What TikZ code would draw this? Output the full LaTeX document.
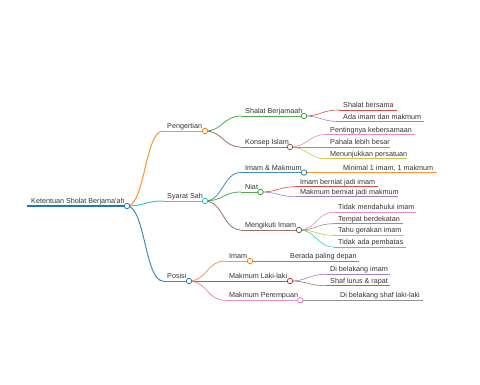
\documentclass[tikz,border=0pt]{standalone}
\usepackage{fontspec}
\setmainfont{Liberation Sans}
\usetikzlibrary{calc}
\definecolor{c1}{HTML}{1F77B4}
\definecolor{c2}{HTML}{FF7F0E}
\definecolor{c3}{HTML}{2CA02C}
\definecolor{c4}{HTML}{D62728}
\definecolor{c5}{HTML}{9467BD}
\definecolor{c6}{HTML}{8C564B}
\definecolor{c7}{HTML}{E377C2}
\definecolor{c8}{HTML}{7F7F7F}
\definecolor{c9}{HTML}{BCBD22}
\definecolor{c10}{HTML}{17BECF}
\definecolor{txt}{HTML}{333333}
\pgfdeclarelayer{fg}
\pgfsetlayers{main,fg}
\newcommand\mmlink[4]{%
  \draw[#3, line width=#4, draw opacity=0.85] let \p1=(#1.center), \p2=(#2) in
    (\p1) .. controls ({(\x1+\x2)/2},\y1) and ({(\x1+\x2)/2},\y2) .. (\p2);}
\newcommand\mmbranch[8]{%
  \coordinate (#1s) at (#3,#4);
  \begin{pgfonlayer}{fg}\node[dot,draw=#6] (#1) at (#5,#4) {};\end{pgfonlayer}
  \mmlink{#2}{#1s}{#6}{#7}
  \draw[#6,line width=#7, draw opacity=0.85] (#1s) -- (#1.center);
  \node[lbl] (#1t) at (#3+4,#4-2.5) {#8};}
\newcommand\mmleaf[7]{%
  \coordinate (#1s) at (#3,#4);
  \coordinate (#1e) at (#5,#4);
  \mmlink{#2}{#1s}{#6}{0.6pt}
  \draw[#6,line width=0.6pt, draw opacity=0.85] (#1s) -- (#1e);
  \node[lbl] (#1t) at (#3+4,#4-2.5) {#7};}
\begin{document}
\begin{tikzpicture}[x=1pt,y=-1pt,
  lbl/.style={inner sep=0pt, anchor=base west, text=txt, font=\fontsize{7.2}{8}\selectfont},
  dot/.style={circle, fill=white, minimum size=5.5pt, inner sep=0pt, line width=0.75pt}]
\useasboundingbox (0,0) rectangle (480,384);
% root
\coordinate (rs) at (27,206);
\begin{pgfonlayer}{fg}\node[dot,draw=c1] (r) at (127,206) {};\end{pgfonlayer}
\draw[c1,line width=1.5pt] (rs) -- (r.center);
\node[lbl] (rt) at (31,203.5) {Ketentuan Sholat Berjama\textquotesingle ah};
% level 1
\mmbranch{p}{r}{163}{131}{205}{c2}{1pt}{Pengertian}
\mmbranch{s}{r}{163}{201}{205}{c10}{1pt}{Syarat Sah}
\mmbranch{q}{r}{163}{281}{189}{c1}{1pt}{Posisi}
% Pengertian
\mmbranch{sb}{p}{241}{116}{304}{c3}{0.8pt}{Shalat Berjamaah}
\mmbranch{ki}{p}{241}{147}{290}{c6}{0.8pt}{Konsep Islam}
\mmleaf{la}{sb}{339}{110}{397}{c4}{Shalat bersama}
\mmleaf{lb}{sb}{339}{121.5}{424}{c5}{Ada imam dan makmum}
\mmleaf{lc}{ki}{326}{134.5}{415}{c7}{Pentingnya kebersamaan}
\mmleaf{ld}{ki}{326}{147}{390}{c8}{Pahala lebih besar}
\mmleaf{le}{ki}{326}{158.7}{407}{c9}{Menunjukkan persatuan}
% Syarat Sah
\mmbranch{im}{s}{241}{172.5}{304}{c1}{0.8pt}{Imam \& Makmum}
\mmbranch{ni}{s}{241}{192}{260.5}{c3}{0.8pt}{Niat}
\mmbranch{mi}{s}{241}{230}{299}{c6}{0.8pt}{Mengikuti Imam}
\mmleaf{lf}{im}{339}{172.5}{437}{c2}{Minimal 1 imam, 1 makmum}
\mmleaf{lg}{ni}{296}{186.7}{378}{c4}{Imam berniat jadi imam}
\mmleaf{lh}{ni}{296}{196.7}{398}{c5}{Makmum berniat jadi makmum}
\mmleaf{li}{mi}{334}{212.3}{416}{c7}{Tidak mendahului imam}
\mmleaf{lj}{mi}{334}{223.7}{403}{c8}{Tempat berdekatan}
\mmleaf{lk}{mi}{334}{235.3}{404}{c9}{Tahu gerakan imam}
\mmleaf{ll}{mi}{334}{247}{406}{c10}{Tidak ada pembatas}
% Posisi
\mmbranch{qi}{q}{225}{261}{250}{c2}{0.8pt}{Imam}
\mmbranch{ql}{q}{225}{281}{290}{c4}{0.8pt}{Makmum Laki-laki}
\mmbranch{qp}{q}{225}{300.3}{300.3}{c7}{0.8pt}{Makmum Perempuan}
\mmleaf{lm}{qi}{286}{261}{359}{c3}{Berada paling depan}
\mmleaf{ln}{ql}{326}{274.3}{390}{c5}{Di belakang imam}
\mmleaf{lo}{ql}{326}{285.7}{390}{c6}{Shaf lurus \& rapat}
\mmleaf{lp}{qp}{336}{300.3}{423}{c8}{Di belakang shaf laki-laki}
\end{tikzpicture}
\end{document}
